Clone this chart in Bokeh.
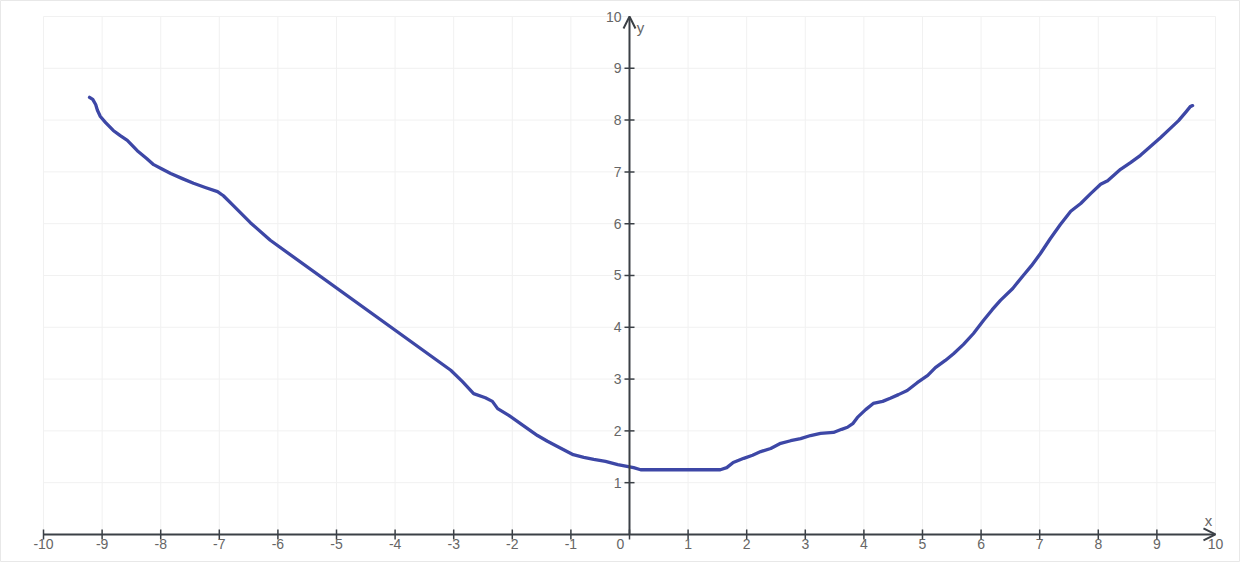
from bokeh.plotting import figure
from bokeh.models import Range1d, ColumnDataSource, Arrow, OpenHead
from bokeh.core.properties import value
from bokeh.embed import file_html
from bokeh.resources import INLINE
import math

# ---- data ----
curve_x = [-9.215, -9.16, -9.11, -9.08, -9.03, -8.94, -8.81, -8.69, -8.57, -8.40,
           -8.24, -8.12, -7.97, -7.83, -7.63, -7.44, -7.24, -7.03, -6.93, -6.76,
           -6.47, -6.13, -3.05, -2.85, -2.66, -2.46, -2.34, -2.25, -2.06, -1.86,
           -1.57, -1.40, -1.23, -0.96, -0.78, -0.61, -0.41, -0.20, -0.02, 0.07,
           0.19, 1.55, 1.66, 1.77, 1.95, 2.10, 2.24, 2.41, 2.58, 2.75,
           2.92, 3.09, 3.26, 3.48, 3.62, 3.72, 3.81, 3.89, 4.03, 4.16,
           4.32, 4.45, 4.59, 4.74, 4.91, 5.09, 5.22, 5.39, 5.53, 5.70,
           5.87, 6.04, 6.19, 6.33, 6.54, 6.72, 6.86, 7.01, 7.18, 7.35,
           7.53, 7.70, 7.87, 8.04, 8.16, 8.38, 8.55, 8.72, 8.89, 9.06,
           9.23, 9.37, 9.49, 9.57, 9.61]
curve_y = [8.44, 8.40, 8.30, 8.19, 8.07, 7.95, 7.80, 7.70, 7.61, 7.41,
           7.26, 7.14, 7.05, 6.97, 6.87, 6.78, 6.70, 6.62, 6.54, 6.35,
           6.02, 5.68, 3.17, 2.95, 2.72, 2.64, 2.57, 2.43, 2.30, 2.14,
           1.91, 1.80, 1.70, 1.54, 1.49, 1.45, 1.41, 1.35, 1.31, 1.29,
           1.25, 1.25, 1.29, 1.39, 1.47, 1.53, 1.60, 1.66, 1.76, 1.81,
           1.85, 1.91, 1.95, 1.97, 2.03, 2.07, 2.14, 2.26, 2.41, 2.53,
           2.57, 2.63, 2.70, 2.78, 2.93, 3.07, 3.22, 3.36, 3.49, 3.67,
           3.88, 4.13, 4.34, 4.52, 4.75, 5.00, 5.19, 5.42, 5.71, 5.98,
           6.24, 6.39, 6.58, 6.76, 6.83, 7.05, 7.18, 7.32, 7.49, 7.66,
           7.84, 7.99, 8.15, 8.26, 8.28]

x_ticks = list(range(-10, 11))
y_ticks = list(range(1, 11))
x_min, x_max = -10, 10
y_min, y_max = 0, 10
x_name = "x"
y_name = "y"

# ---- figure ----
p = figure(width=1240, height=562, output_backend="svg", toolbar_location=None,
           x_range=Range1d(-10.734, 10.427), y_range=Range1d(-0.541, 10.309),
           min_border=0, x_axis_type=None, y_axis_type=None)
p.xgrid.visible = False
p.ygrid.visible = False
p.outline_line_color = "#e8e8e8"
p.background_fill_color = "white"
p.border_fill_color = "white"

grid_color = "#f1f1f1"
p.segment(x0=x_ticks, y0=[y_min] * len(x_ticks), x1=x_ticks, y1=[y_max] * len(x_ticks),
          line_color=grid_color, line_width=1)
p.segment(x0=[x_min] * len(y_ticks), y0=y_ticks, x1=[x_max] * len(y_ticks), y1=y_ticks,
          line_color=grid_color, line_width=1)

axis_color = "#3b4046"
p.line(curve_x, curve_y, line_color="#3d47a6", line_width=3.3, line_join="round", line_cap="round")

p.add_layout(Arrow(x_start=x_min, y_start=0, x_end=x_max, y_end=0, line_color=axis_color, line_width=2,
                   end=OpenHead(size=12, line_color=axis_color, line_width=2)))
p.add_layout(Arrow(x_start=0, y_start=y_min, x_end=0, y_end=y_max, line_color=axis_color, line_width=2,
                   end=OpenHead(size=12, line_color=axis_color, line_width=2)))

xt = [t for t in x_ticks if t != x_max]
p.scatter(x=xt, y=[0] * len(xt), marker="dash", size=10, angle=math.pi / 2,
          line_color=axis_color, line_width=1.5)
yt = [t for t in y_ticks if t != y_max]
p.scatter(x=[0] * len(yt), y=yt, marker="dash", size=10,
          line_color=axis_color, line_width=1.5)

font = value("Liberation Sans")
label_color = "#666666"
xsrc = ColumnDataSource(dict(x=x_ticks, y=[0] * len(x_ticks), t=[str(v) for v in x_ticks],
                             dx=[-9 if v == 0 else 0 for v in x_ticks]))
p.text(x="x", y="y", text="t", x_offset="dx", y_offset=5, source=xsrc, text_font=font,
       text_font_size="14px", text_color=label_color, text_align="center", text_baseline="top")
ysrc = ColumnDataSource(dict(x=[0] * len(y_ticks), y=y_ticks, t=[str(v) for v in y_ticks]))
p.text(x="x", y="y", text="t", x_offset=-8, y_offset=0, source=ysrc, text_font=font,
       text_font_size="14px", text_color=label_color, text_align="right", text_baseline="middle")

p.text(x=[x_max], y=[0], text=[x_name], x_offset=-7, y_offset=-14, text_font=font,
       text_font_size="15px", text_color=label_color, text_align="center", text_baseline="middle")
p.text(x=[0], y=[y_max], text=[y_name], x_offset=11, y_offset=11, text_font=font,
       text_font_size="15px", text_color=label_color, text_align="center", text_baseline="middle")

open("out.html", "w").write(file_html(p, INLINE))
